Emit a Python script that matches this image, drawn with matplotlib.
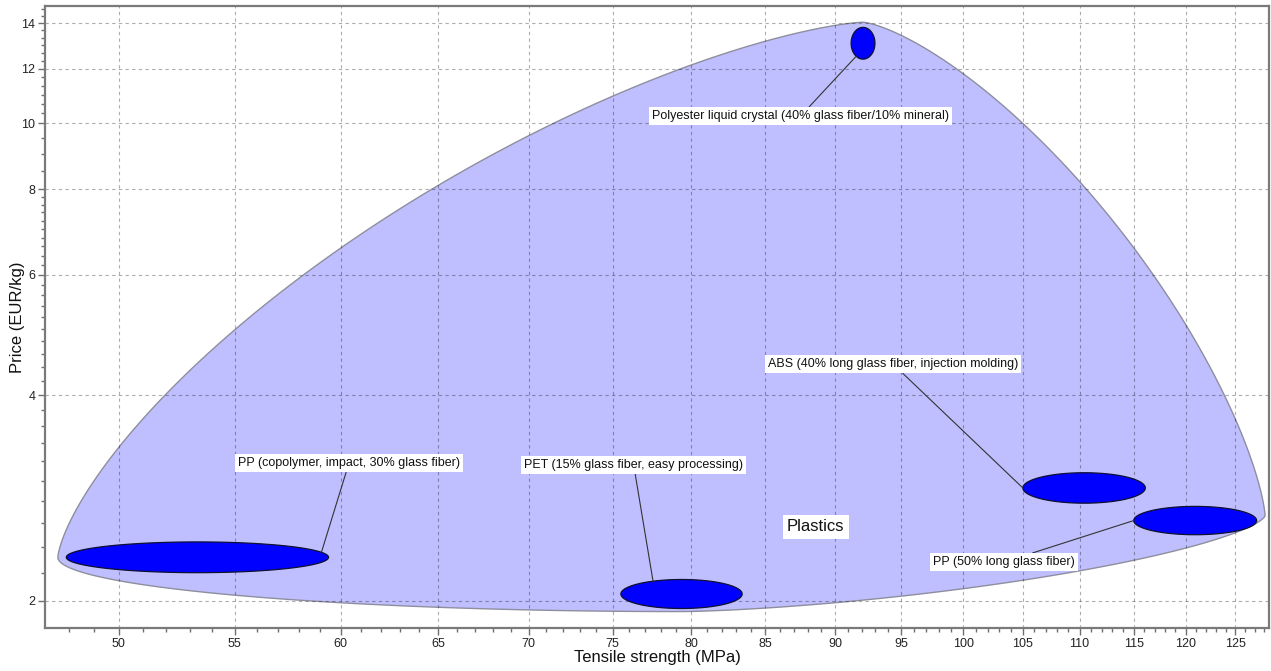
import numpy as np
import matplotlib
matplotlib.use("Agg")
import matplotlib.pyplot as plt
from matplotlib.ticker import FixedLocator, NullFormatter

plt.rcParams["font.family"] = ["Liberation Sans", "DejaVu Sans"]

# Material records: tensile strength range (MPa) and price range (EUR/kg)
materials = [
    "Polyester liquid crystal (40% glass fiber/10% mineral)",
    "PP (copolymer, impact, 30% glass fiber)",
    "PET (15% glass fiber, easy processing)",
    "ABS (40% long glass fiber, injection molding)",
    "PP (50% long glass fiber)",
]
strength_low = [91.2, 47.9, 75.5, 105.0, 115.0]
strength_high = [93.0, 59.4, 83.4, 116.1, 127.2]
price_low = [12.4, 2.20, 1.95, 2.78, 2.50]
price_high = [13.8, 2.44, 2.15, 3.08, 2.75]

family_name = "Plastics"

x_ticks = list(range(50, 130, 5))
y_ticks = [2, 4, 6, 8, 10, 12, 14]

# Label placement (data coordinates) and where each leader meets its bubble
label_x = [87.5, 60.4, 76.3, 94.4, 103.4]
label_y = [10.24, 3.18, 3.16, 4.44, 2.28]
attach_deg = [235, 19, 118, 180, 180]
family_label_xy = (88.6, 2.566)


def log_ellipse(lo_x, hi_x, lo_y, hi_y):
    cx = (np.log10(lo_x) + np.log10(hi_x)) / 2
    cy = (np.log10(lo_y) + np.log10(hi_y)) / 2
    rx = (np.log10(hi_x) - np.log10(lo_x)) / 2
    ry = (np.log10(hi_y) - np.log10(lo_y)) / 2
    return cx, cy, rx, ry


def ellipse_points(cx, cy, rx, ry, n=300):
    t = np.linspace(0, 2 * np.pi, n)
    return 10 ** (cx + rx * np.cos(t)), 10 ** (cy + ry * np.sin(t))


def family_envelope(shapes, mx=0.003, my=0.0075, powers=(1.42, 1.4, 1.5, 2.0), n=200):
    """Smooth envelope around all bubbles, built in log space from the
    extreme bubbles with a superellipse arc per quadrant."""
    cxs = np.array([s[0] for s in shapes])
    cys = np.array([s[1] for s in shapes])
    rxs = np.array([s[2] for s in shapes])
    rys = np.array([s[3] for s in shapes])
    i = np.argmin(cxs - rxs); L = (cxs[i] - rxs[i] - mx, cys[i])
    i = np.argmax(cxs + rxs); R = (cxs[i] + rxs[i] + mx, cys[i] + 0.35 * rys[i])
    i = np.argmax(cys + rys); T = (cxs[i], cys[i] + rys[i] + my)
    i = np.argmin(cys - rys); B = (cxs[i], cys[i] - rys[i] - my * 0.6)
    t = np.linspace(0, np.pi / 2, n)
    c, s = np.cos(t), np.sin(t)
    pul, pur, plr, pll = powers
    ul_x = T[0] - (T[0] - L[0]) * c ** (2 / pul)
    ul_y = L[1] + (T[1] - L[1]) * s ** (2 / pul)
    ur_x = T[0] + (R[0] - T[0]) * s ** (2 / pur)
    ur_y = R[1] + (T[1] - R[1]) * c ** (2 / pur)
    lr_x = B[0] + (R[0] - B[0]) * c ** (2 / plr)
    lr_y = R[1] - (R[1] - B[1]) * s ** (2 / plr)
    ll_x = B[0] - (B[0] - L[0]) * s ** (2 / pll)
    ll_y = L[1] - (L[1] - B[1]) * c ** (2 / pll)
    xs = np.concatenate([ul_x, ur_x, lr_x, ll_x])
    ys = np.concatenate([ul_y, ur_y, lr_y, ll_y])
    return 10 ** xs, 10 ** ys


W, H = 1271, 671
fig = plt.figure(figsize=(W / 100, H / 100), dpi=100)
ax = fig.add_axes([45 / W, (H - 628) / H, (1269 - 45) / W, (628 - 6) / H])
ax.set_xscale("log")
ax.set_yscale("log")
ax.set_xlim(47.07, 128.5)
ax.set_ylim(1.826, 14.83)

shapes = [log_ellipse(a, b, c, d) for a, b, c, d in
          zip(strength_low, strength_high, price_low, price_high)]

# Family envelope
ex, ey = family_envelope(shapes)
ax.fill(ex, ey, facecolor="#bfbfff", edgecolor="#8e8e9e", lw=1.0, zorder=1)

# Material bubbles
for cx, cy, rx, ry in shapes:
    px, py = ellipse_points(cx, cy, rx, ry)
    ax.fill(px, py, facecolor="#0000ff", edgecolor="#101030", lw=0.9, zorder=3)

# Leader labels
for name, (cx, cy, rx, ry), lx, ly, ang in zip(materials, shapes, label_x, label_y, attach_deg):
    a = np.deg2rad(ang)
    ax_pt = (10 ** (cx + rx * np.cos(a)), 10 ** (cy + ry * np.sin(a)))
    ax.annotate(name, xy=ax_pt, xytext=(lx, ly), textcoords="data",
                ha="center", va="center", fontsize=9, color="#111111",
                bbox=dict(boxstyle="square,pad=0.25", fc="white", ec="none"),
                arrowprops=dict(arrowstyle="-", color="#333333", lw=0.8,
                                shrinkA=0, shrinkB=0),
                zorder=4)

ax.text(family_label_xy[0], family_label_xy[1], family_name, ha="center", va="center",
        fontsize=12, color="#111111", zorder=4,
        bbox=dict(boxstyle="square,pad=0.25", fc="white", ec="none"))

# Axes styling
ax.xaxis.set_major_locator(FixedLocator(x_ticks))
ax.yaxis.set_major_locator(FixedLocator(y_ticks))
ax.set_xticklabels([str(v) for v in x_ticks])
ax.set_yticklabels([str(v) for v in y_ticks])
x_minor = [v for v in range(47, 129) if v % 5]
y_minor = list(np.round(np.arange(1.8, 8.0, 0.2), 2)) + [8.5, 9.0, 9.5] + \
    [10 + k / 3 for k in range(1, 15) if k % 6]
ax.xaxis.set_minor_locator(FixedLocator(x_minor))
ax.yaxis.set_minor_locator(FixedLocator([v for v in y_minor if v not in y_ticks]))
ax.xaxis.set_minor_formatter(NullFormatter())
ax.yaxis.set_minor_formatter(NullFormatter())

ax.tick_params(which="major", length=5, width=1, color="#707070",
               labelsize=9, labelcolor="#222222", pad=2)
ax.tick_params(which="minor", length=3, width=1, color="#707070")
for sp in ax.spines.values():
    sp.set_color("#7a7a7a")
    sp.set_linewidth(1.6)

ax.set_axisbelow("line")
ax.grid(True, which="major", color="black", alpha=0.32, linestyle=(0, (3, 3)), lw=0.8)

ax.set_xlabel("Tensile strength (MPa)", fontsize=12, color="#111111")
ax.set_ylabel("Price (EUR/kg)", fontsize=12, color="#111111")
ax.xaxis.set_label_coords(0.5, -0.036)
ax.yaxis.set_label_coords(-0.0165, 0.5)

fig.savefig("out.png", dpi=100, facecolor="white")
